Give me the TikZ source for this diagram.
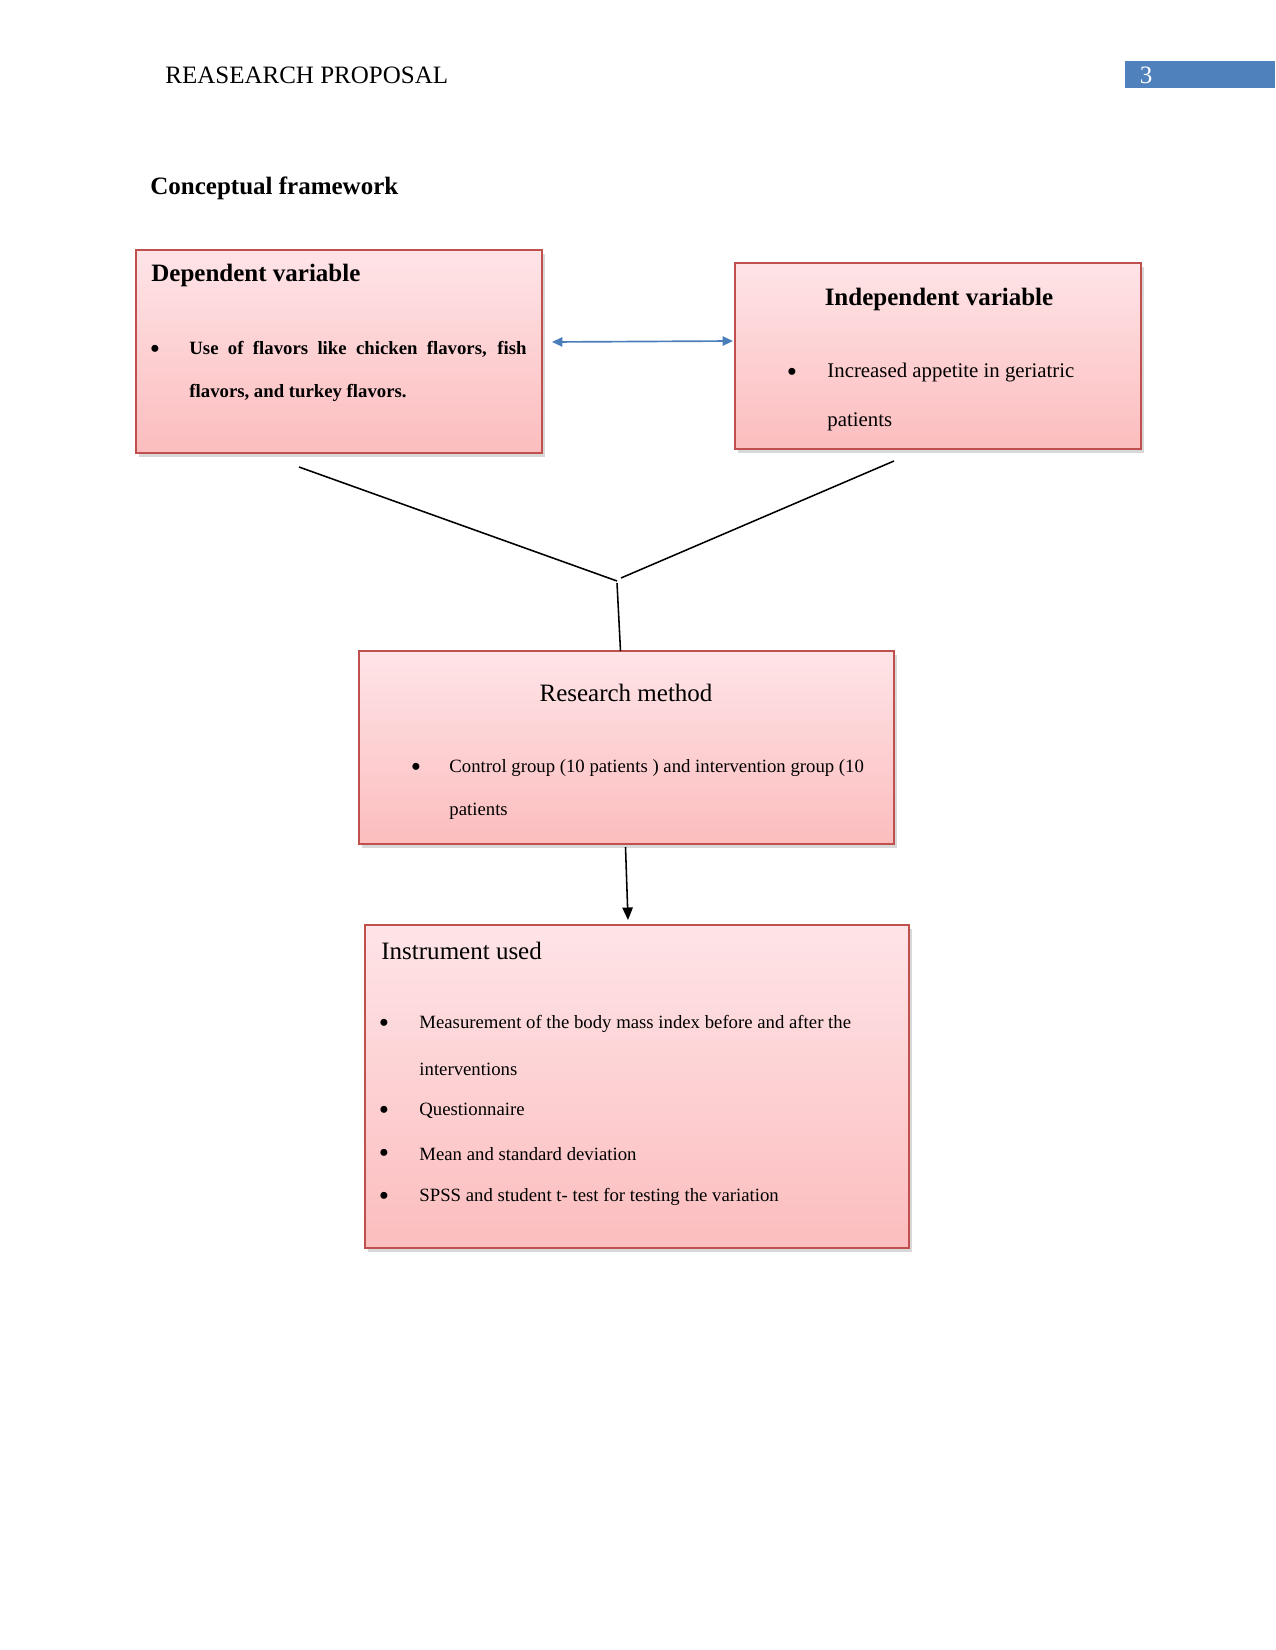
\documentclass[tikz,border=0pt]{standalone}
\usepackage{fontspec}
\setmainfont{Liberation Serif}
\usetikzlibrary{shadows,arrows.meta}
\definecolor{boxtop}{HTML}{FEE4E7}
\definecolor{boxbot}{HTML}{FCBDBE}
\definecolor{boxline}{HTML}{C0504D}
\definecolor{hdrblue}{HTML}{4F81BD}
\definecolor{arrblue}{HTML}{4A7EBB}
\begin{document}
\begin{tikzpicture}[x=0.48pt,y=-0.48pt,
  panel/.style={draw=boxline, line width=0.8pt, top color=boxtop, bottom color=boxbot,
    inner sep=0pt, outer sep=0pt, anchor=north west,
    drop shadow={shadow xshift=1.3pt, shadow yshift=-1.8pt, opacity=0.3}},
  txt/.style={inner sep=0pt, anchor=west, font=\fontsize{10}{12}\selectfont},
  stxt/.style={inner sep=0pt, anchor=west, font=\fontsize{9}{11}\selectfont},
  btxt/.style={inner sep=0pt, anchor=west, font=\fontsize{9}{11}\selectfont\bfseries},
  ttl/.style={inner sep=0pt, font=\fontsize{12}{14}\selectfont},
  bul/.style={inner sep=0pt, font=\fontsize{14}{14}\selectfont},
  link/.style={draw=black, line width=0.75pt},
  dblarrow/.style={draw=arrblue, line width=0.8pt, {Triangle[length=5pt,width=4.5pt]}-{Triangle[length=5pt,width=4.5pt]}},
  downarrow/.style={draw=black, line width=0.75pt, -{Triangle[length=6pt,width=5pt]}}
]
\useasboundingbox (0,0) rectangle (1275,1650);
\fill[white] (0,0) rectangle (1275,1650);

% header
\node[ttl, anchor=west] (hdr) at (165,75) {REASEARCH PROPOSAL};
\node[fill=hdrblue, inner sep=0pt, outer sep=0pt, anchor=north west, minimum width=72pt, minimum height=12.96pt] (pgbox) at (1125,61) {};
\node[ttl, text=white] (pgnum) at (1146,75) {3};

\node[ttl, anchor=west, font=\fontsize{12}{14}\selectfont\bfseries] (cf) at (150,188) {Conceptual framework};

% boxes
\node[panel, minimum width=194.88pt, minimum height=97.44pt] (dep) at (136,250) {};
\node[panel, minimum width=194.88pt, minimum height=89.28pt] (ind) at (735,263) {};
\node[panel, minimum width=256.8pt, minimum height=92.64pt] (res) at (359,651) {};
\node[panel, minimum width=261.12pt, minimum height=155.04pt] (ins) at (365,925) {};

% dependent texts
\node[ttl, anchor=west, font=\fontsize{12}{14}\selectfont\bfseries] (depT) at (151,275) {Dependent variable};
\node[bul] (depB) at (155,352) {\textbullet};
\node[btxt] (depL1) at (189,349) {\makebox[161.8pt][s]{Use of flavors like chicken flavors, fish}};
\node[btxt] (depL2) at (189,393) {flavors, and turkey flavors.};

% independent texts
\node[ttl, font=\fontsize{12}{14}\selectfont\bfseries] (indT) at (939,299) {Independent variable};
\node[bul] (indB) at (792,375) {\textbullet};
\node[txt] (indL1) at (827,373) {Increased appetite in geriatric};
\node[txt] (indL2) at (827,422) {patients};

% research texts
\node[ttl] (resT) at (626,693) {Research method};
\node[bul] (resB) at (416,770) {\textbullet};
\node[stxt] (resL1) at (449,768) {Control group (10 patients ) and intervention group (10};
\node[stxt] (resL2) at (449,811) {patients};

% instrument texts
\node[ttl, anchor=west] (insT) at (381,951) {Instrument used};
\node[bul] (insB1) at (384,1026) {\textbullet};
\node[stxt] (insL1) at (419,1024) {Measurement of the body mass index before and after the};
\node[stxt] (insL1b) at (419,1069) {interventions};
\node[bul] (insB2) at (384,1113) {\textbullet};
\node[stxt] (insL2) at (419,1111) {Questionnaire};
\node[bul] (insB3) at (384,1156) {\textbullet};
\node[stxt] (insL3) at (419,1154) {Mean and standard deviation};
\node[bul] (insB4) at (384,1199) {\textbullet};
\node[stxt] (insL4) at (419,1197) {SPSS and student t- test for testing the variation};

% connectors
\draw[dblarrow] ([shift={(10,-9.5)}]dep.east) -- ([shift={(-2,-15)}]ind.west);

\coordinate (jl) at (617,581);
\coordinate (jr) at (621,578);
\coordinate (jv) at (617,583);
\coordinate (la) at (299,467);
\coordinate (ra) at (894,461);
\draw[link] (la) -- (jl);
\draw[link] (ra) -- (jr);
\draw[link] (jv) -- ([shift={(-6,0)}]res.north);
\draw[downarrow] ([shift={(-1,3)}]res.south) -- ([shift={(-9,-5)}]ins.north);
\end{tikzpicture}
\end{document}
